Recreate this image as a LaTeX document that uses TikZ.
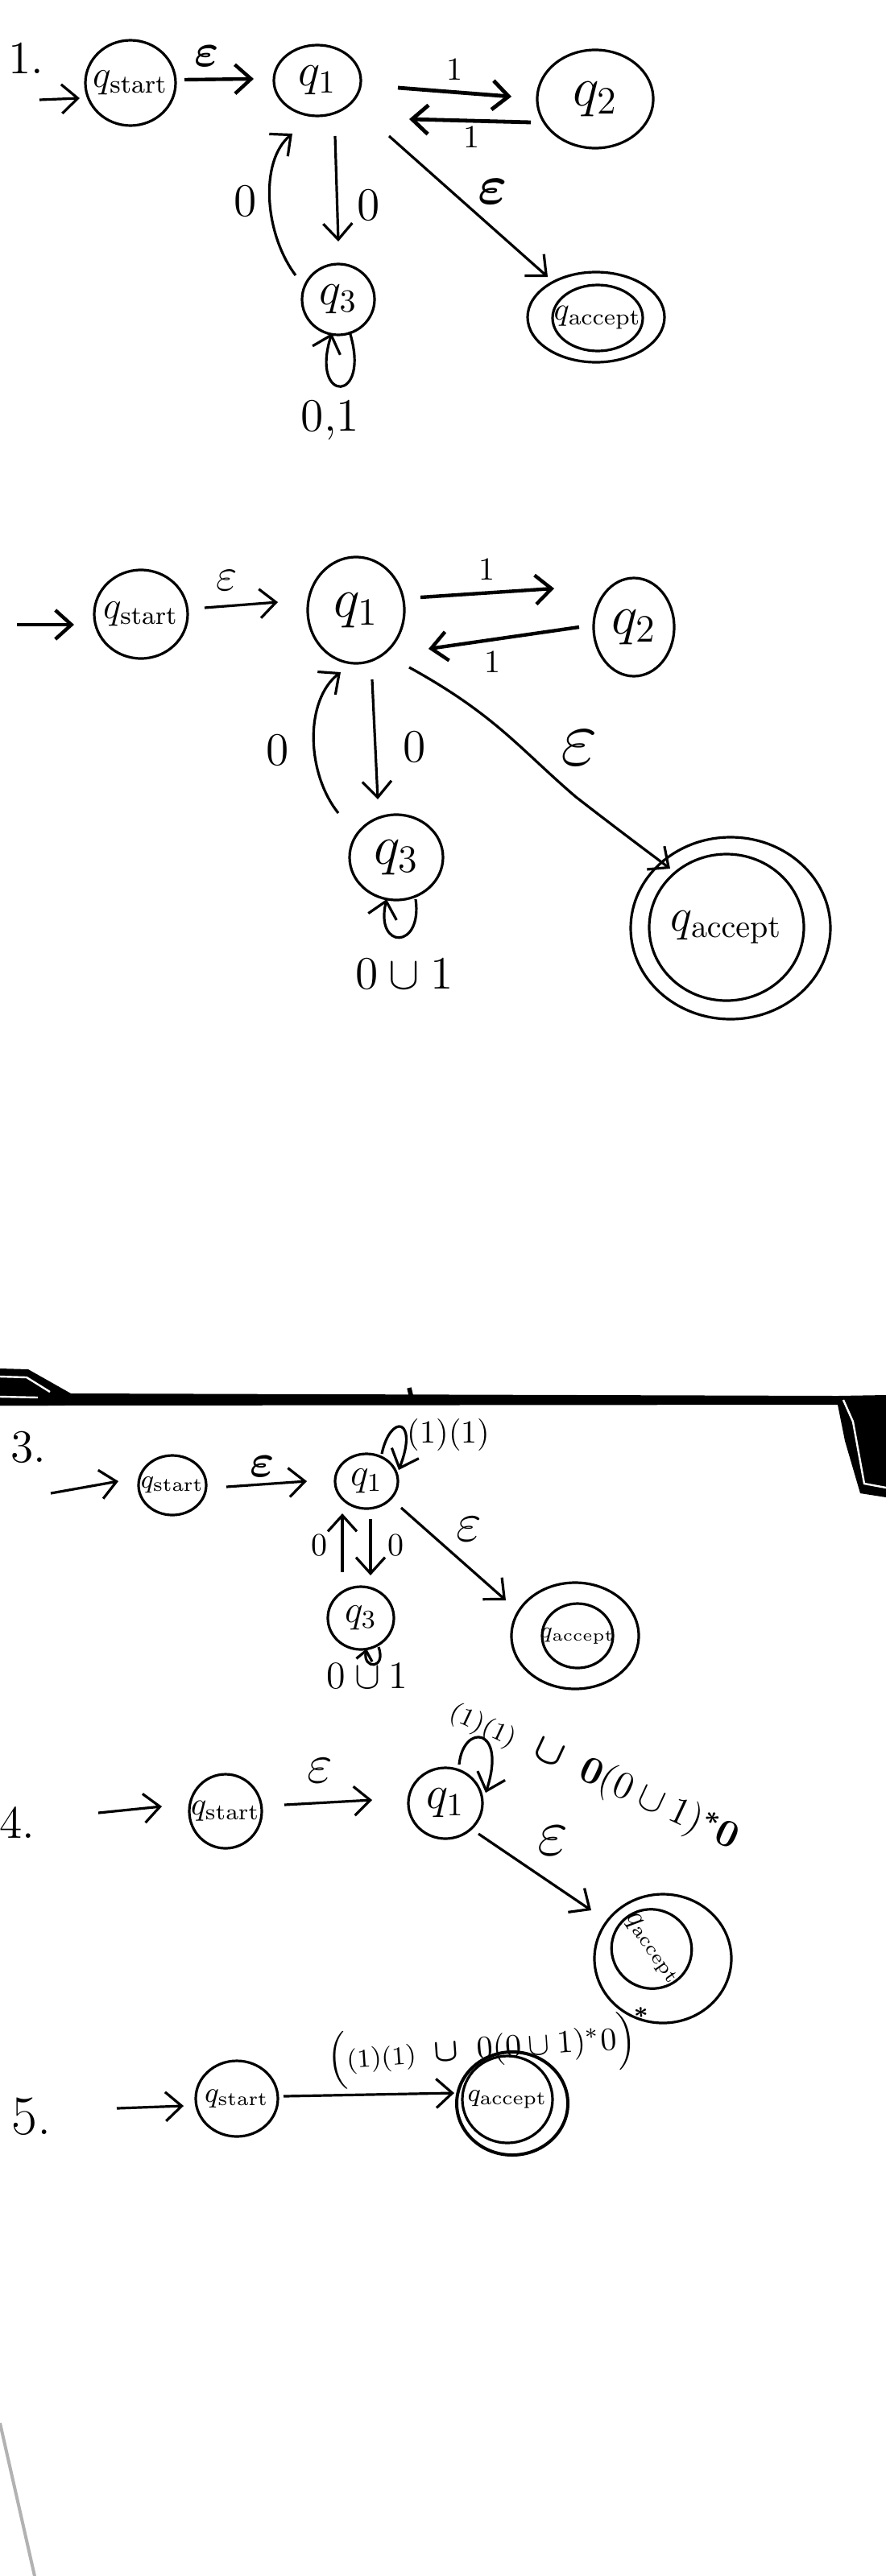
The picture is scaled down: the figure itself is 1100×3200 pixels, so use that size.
\documentclass[tikz,border=0pt]{standalone}
\usepackage{amsmath}
\usetikzlibrary{arrows.meta,shapes.geometric,calc}
\begin{document}
\begin{tikzpicture}[x=0.25pt,y=-0.25pt,
  st/.style={draw, ellipse, inner sep=0pt, outer sep=0pt, line width=0.8pt},
  lab/.style={inner sep=0pt},
  arr/.style={line width=0.8pt, -{Straight Barb[length=5pt,width=9pt]}},
  sarr/.style={line width=0.8pt, -{Straight Barb[length=3pt,width=5pt]}},
  ln/.style={line width=0.8pt}]
\fill[white] (0,0) rectangle (1100,3200);
\useasboundingbox (0,0) rectangle (1100,3200);

% ---------------- section 1 ----------------
\node[lab,font=\Large] (n1) at (32,72) {1.};
\node[st,minimum width=28pt,minimum height=26.5pt] (qs1) at (162,103) {};
\node[lab,font=\large] (qs1l) at (qs1) {$q_{\mathrm{start}}$};
\node[st,minimum width=27pt,minimum height=22pt] (q1a) at (394,100) {};
\node[lab,font=\Large] (q1al) at (q1a) {$q_1$};
\node[st,minimum width=36pt,minimum height=30.5pt] (q2a) at (739,123) {};
\node[lab,font=\LARGE] (q2al) at (q2a) {$q_2$};
\node[st,minimum width=22.5pt,minimum height=22pt] (q3a) at (420,372) {};
\node[lab,font=\Large] (q3al) at (q3a) {$q_3$};
\node[st,minimum width=42.5pt,minimum height=28pt] (qa1o) at (740,394) {};
\node[st,minimum width=28pt,minimum height=20.5pt] (qa1) at (742,395) {};
\node[lab,font=\normalsize] (qa1l) at (qa1) {$q_{\mathrm{accept}}$};
\coordinate (i1) at (49,124);
\draw[arr] (i1) -- ($(qs1)+(-63,19)$);
\draw[arr,line width=1.1pt] ($(qs1)+(67,-4)$) -- ($(q1a)+(-79,-2)$);
\node[lab,font=\Large] (e1a) at (257,70) {$\boldsymbol{\varepsilon}$};
\draw[arr,line width=1.2pt] ($(q1a)+(100,9)$) -- ($(q2a)+(-104,-3)$);
\node[lab,font=\normalsize] (o1a) at (564,86) {1};
\draw[arr,line width=1.2pt] ($(q2a)+(-80,29)$) -- ($(q1a)+(114,48)$);
\node[lab,font=\normalsize] (o1b) at (585,170) {1};
\draw[arr] ($(q1a)+(22,69)$) -- ($(q3a)+(0,-72)$);
\node[lab,font=\Large] (z1a) at (458,255) {0};
\draw[arr] ($(q3a)+(-53,-30)$) .. controls (328,290) and (322,200) .. ($(q1a)+(-31,66)$);
\node[lab,font=\Large] (z1b) at (305,250) {0};
\draw[arr] ($(q3a)+(14,40)$) .. controls ($(q3a)+(42,130)$) and ($(q3a)+(-36,130)$) .. ($(q3a)+(-8,42)$);
\node[lab,font=\Large] (l1c) at (410,522) {0,1};
\draw[arr] ($(q1a)+(89,69)$) -- ($(qa1o)+(-60,-50)$);
\node[lab,font=\LARGE] (e1b) at (612,238) {$\boldsymbol{\varepsilon}$};

% ---------------- section 2 ----------------
\node[st,minimum width=29pt,minimum height=27.5pt] (qs2) at (175,763) {};
\node[lab,font=\large] (qs2l) at (qs2) {$q_{\mathrm{start}}$};
\node[st,minimum width=30pt,minimum height=33pt] (q1b) at (442,758) {};
\node[lab,font=\LARGE] (q1bl) at (q1b) {$q_1$};
\node[st,minimum width=25pt,minimum height=30.5pt] (q2b) at (787,779) {};
\node[lab,font=\LARGE] (q2bl) at (q2b) {$q_2$};
\node[st,minimum width=29pt,minimum height=26.5pt] (q3b) at (492,1065) {};
\node[lab,font=\LARGE] (q3bl) at (q3b) {$q_3$};
\node[st,minimum width=62pt,minimum height=56.5pt] (qa2o) at (907,1153) {};
\node[st,minimum width=48pt,minimum height=45.5pt] (qa2) at (902,1152) {};
\node[lab,font=\Large] (qa2l) at (qa2) {$q_{\mathrm{accept}}$};
\coordinate (i2) at (21,776);
\draw[arr,line width=1.1pt] (i2) -- ($(qs2)+(-83,13)$);
\draw[arr] ($(qs2)+(79,-8)$) -- ($(q1b)+(-97,-10)$);
\node[lab,font=\Large] (e2a) at (282,721) {$\varepsilon$};
\draw[arr,line width=1.1pt] ($(q1b)+(80,-16)$) -- ($(q2b)+(-99,-48)$);
\node[lab,font=\normalsize] (o2a) at (604,707) {1};
\draw[arr,line width=1.1pt] ($(q2b)+(-68,0)$) -- ($(q1b)+(90,48)$);
\node[lab,font=\normalsize] (o2b) at (611,822) {1};
\draw[arr] ($(q1b)+(20,86)$) -- ($(q3b)+(-23,-72)$);
\node[lab,font=\Large] (z2a) at (515,928) {0};
\draw[arr] ($(q3b)+(-72,-55)$) .. controls (380,960) and (378,870) .. ($(q1b)+(-19,77)$);
\node[lab,font=\Large] (z2b) at (345,932) {0};
\draw[arr] ($(q3b)+(24,52)$) .. controls (525,1180) and (465,1180) .. ($(q3b)+(-12,52)$);
\node[lab,font=\Large] (l2c) at (502,1210) {$0\cup1$};
\draw[arr] ($(q1b)+(66,71)$) .. controls (615,888) and (645,930) .. (715,990) .. controls (760,1025) and (800,1055) .. ($(qa2o)+(-75,-74)$);
\node[lab,font=\Huge] (e2b) at (719,929) {$\varepsilon$};

% ---------------- section 3 ----------------
\fill[black!85] (0,1712) -- (33,1713) -- (60,1731) -- (60,1746) -- (0,1746) -- cycle;
\fill[black] (0,1700) -- (35,1701) -- (88,1731) -- (1040,1734) -- (1100,1733) -- (1100,1860) -- (1068,1855) -- (1049,1790) -- (1040,1745) -- (60,1746) -- (0,1746) -- cycle;
\draw[white,line width=0.6pt] (0,1710) -- (33,1711) -- (62,1729);
\draw[white,line width=0.6pt] (0,1735) -- (47,1736);
\draw[white,line width=0.6pt] (1047,1739) -- (1059,1766) -- (1073,1843) -- (1100,1848);
\draw[line width=1.4pt] (508,1724) -- (511,1737);

\node[lab,font=\Large] (n3) at (35,1798) {3.};
\node[st,minimum width=21pt,minimum height=18.5pt] (qs3) at (214,1845) {};
\node[lab,font=\footnotesize] (qs3l) at (qs3) {$q_{\mathrm{start}}$};
\node[st,minimum width=19.5pt,minimum height=17pt] (q1c) at (455,1840) {};
\node[lab,font=\large] (q1cl) at (q1c) {$q_1$};
\node[st,minimum width=20.5pt,minimum height=19.5pt] (q3c) at (448,2010) {};
\node[lab,font=\large] (q3cl) at (q3c) {$q_3$};
\node[st,minimum width=39.5pt,minimum height=33pt] (qa3o) at (714,2032) {};
\node[st,minimum width=22pt,minimum height=20pt] (qa3) at (717,2032) {};
\node[lab,font=\scriptsize] (qa3l) at (qa3) {$q_{\mathrm{accept}}$};
\coordinate (i3) at (63,1855);
\draw[arr] (i3) -- ($(qs3)+(-67,-5)$);
\draw[arr] ($(qs3)+(67,2)$) -- ($(q1c)+(-74,0)$);
\node[lab,font=\Large] (e3a) at (326,1822) {$\boldsymbol{\varepsilon}$};
\draw[arr] ($(q1c)+(19,-34)$) .. controls (485,1755) and (520,1762) .. ($(q1c)+(40,-14)$);
\node[lab,font=\normalsize] (l3a) at (557,1782) {(1)(1)};
\draw[arr] ($(q1c)+(5,47)$) -- ($(q3c)+(12,-53)$);
\node[lab,font=\normalsize] (z3a) at (491,1920) {0};
\draw[arr] ($(q3c)+(-23,-57)$) -- ($(q1c)+(-30,40)$);
\node[lab,font=\normalsize] (z3b) at (396,1920) {0};
\draw[sarr] ($(q3c)+(22,36)$) .. controls (480,2074) and (450,2074) .. ($(q3c)+(7,38)$);
\node[lab,font=\large] (l3c) at (456,2082) {$0\cup1$};
\draw[arr] ($(q1c)+(43,33)$) -- ($(qa3o)+(-86,-44)$);
\node[lab,font=\LARGE] (e3b) at (582,1900) {$\varepsilon$};

% ---------------- section 4 ----------------
\node[lab,font=\Large] (n4) at (21,2264) {4.};
\node[st,minimum width=22.5pt,minimum height=23pt] (qs4) at (280,2250) {};
\node[lab,font=\normalsize] (qs4l) at (qs4) {$q_{\mathrm{start}}$};
\node[st,minimum width=23pt,minimum height=22pt] (q1d) at (553,2240) {};
\node[lab,font=\Large] (q1dl) at (q1d) {$q_1$};
\node[st,minimum width=42.5pt,minimum height=40pt] (qa4o) at (823,2433) {};
\node[st,minimum width=25pt,minimum height=24.5pt,rotate=-30] (qa4) at (809,2421) {};
\node[lab,font=\small,rotate=-55] (qa4l) at (qa4) {$q_{\mathrm{accept}}$};
\coordinate (i4) at (122,2252);
\draw[arr] (i4) -- ($(qs4)+(-79,-6)$);
\draw[arr] ($(qs4)+(73,-8)$) -- ($(q1d)+(-91,-4)$);
\node[lab,font=\LARGE] (e4a) at (397,2200) {$\varepsilon$};
\draw[arr] ($(q1d)+(17,-48)$) .. controls (575,2140) and (630,2145) .. ($(q1d)+(50,-13)$);
\node[lab,font=\large,rotate=-25] (l4) at (738,2205) {$\text{\footnotesize(1)(1)}\ \boldsymbol{\cup}\ \mathbf{0}(0\cup1)^{\boldsymbol{*}}\mathbf{0}$};
\draw[arr] ($(q1d)+(41,38)$) -- ($(qa4o)+(-89,-60)$);
\node[lab,font=\huge] (e4b) at (686,2287) {$\varepsilon$};

% ---------------- section 5 ----------------
\node[lab,font=\LARGE] (n5) at (39,2629) {5.};
\node[st,minimum width=25.5pt,minimum height=23.5pt] (qs5) at (294,2607) {};
\node[lab,font=\small] (qs5l) at (qs5) {$q_{\mathrm{start}}$};
\node[st,line width=1pt,minimum width=34.5pt,minimum height=32pt] (qa5o) at (636,2613) {};
\node[st,minimum width=28pt,minimum height=27pt] (qa5) at (630,2608) {};
\node[lab,font=\footnotesize] (qa5l) at (qa5) {$q_{\mathrm{accept}}$};
\coordinate (i5) at (145,2619);
\draw[arr] (i5) -- ($(qs5)+(-66,9)$);
\draw[arr] ($(qs5)+(58,-3)$) -- ($(qa5o)+(-72,-13)$);
\node[lab,font=\normalsize,rotate=4] (l5) at (608,2545) {$\Big(\text{\footnotesize(1)(1)}\ \boldsymbol{\cup}\ 0(0\cup1)^{*}0\Big)^{\boldsymbol{*}}$};

% page artefact
\draw[black!30,line width=1pt] (0,3010) -- (43,3200);
\end{tikzpicture}
\end{document}
